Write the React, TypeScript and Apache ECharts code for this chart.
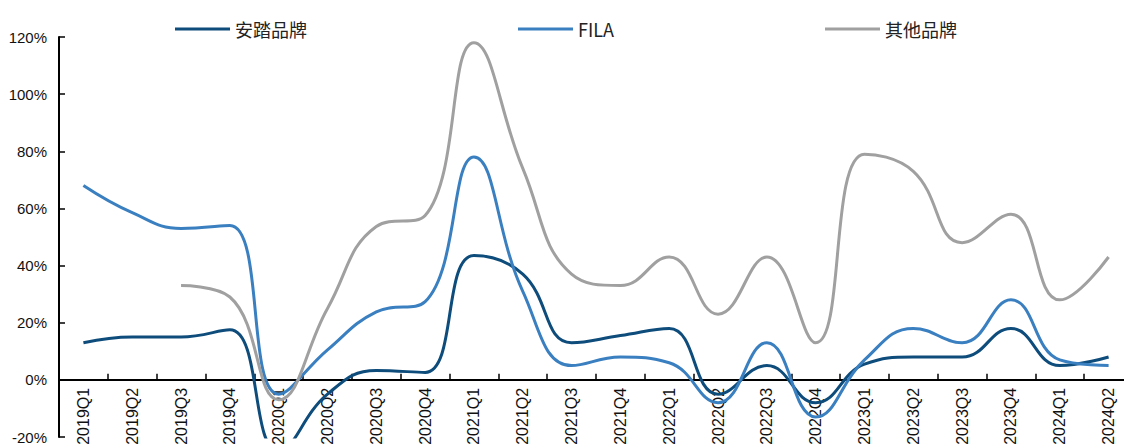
import React, { useEffect, useRef } from "react";
import * as echarts from "echarts";

const categories = [
  "2019Q1", "2019Q2", "2019Q3", "2019Q4",
  "2020Q1", "2020Q2", "2020Q3", "2020Q4",
  "2021Q1", "2021Q2", "2021Q3", "2021Q4",
  "2022Q1", "2022Q2", "2022Q3", "2022Q4",
  "2023Q1", "2023Q2", "2023Q3", "2023Q4",
  "2024Q1", "2024Q2",
];

const antaBrand = [13, 15, 15, 17.5, -25, -5, 3.3, 2.6, 43.5, 37, 13, 15.5, 18, -5, 5, -8, 5.5, 8, 8, 18, 5, 8];
const fila = [68, 58.5, 53, 54, -5, 10.5, 23.8, 27.4, 78, 31, 5, 8, 6, -8, 13, -13, 7, 18, 13, 28, 7, 5];
const otherBrands: (number | null)[] = [null, null, 33, 29, -7, 25, 53.7, 57.5, 118, 74, 37, 33, 43, 23, 43, 13, 79, 73, 48, 58, 28, 43];

const yTicks = { min: -20, max: 120, interval: 20 };

const COLORS = { anta: "#0e4c7c", fila: "#3a7fc0", other: "#a0a0a0" };

const GRID_HEIGHT = 400;

export default function App() {
  const ref = useRef<HTMLDivElement>(null);
  useEffect(() => {
    if (!ref.current) return;
    const chart = echarts.init(ref.current, undefined, { renderer: "svg" });
    const legendCommon = {
      top: 15,
      icon: "rect",
      itemWidth: 55,
      itemHeight: 3,
      itemGap: 6,
      textStyle: { fontSize: 18, color: "#222", fontFamily: "Noto Sans CJK SC" },
    };
    // position x axis at value 0
    const zeroOffset = -GRID_HEIGHT * (0 - yTicks.min) / (yTicks.max - yTicks.min);
    chart.setOption({
      animation: false,
      backgroundColor: "#fff",
      legend: [
        { ...legendCommon, left: 170, data: ["安踏品牌"] },
        { ...legendCommon, left: 513, data: ["FILA"] },
        { ...legendCommon, left: 820, data: ["其他品牌"] },
      ],
      grid: { left: 59, top: 37, width: 1074, height: GRID_HEIGHT, containLabel: false, outerBoundsMode: "none" },
      xAxis: {
        type: "category",
        data: categories,
        boundaryGap: true,
        position: "bottom",
        offset: zeroOffset,
        axisLine: { onZero: false, lineStyle: { color: "#000", width: 2 } },
        axisTick: { show: true, inside: true, length: 6, alignWithLabel: false, lineStyle: { color: "#000", width: 1.5 } },
        axisLabel: {
          rotate: 90,
          interval: 0,
          margin: 8,
          fontSize: 16,
          color: "#111",
          fontFamily: "Liberation Sans",
        },
        splitLine: { show: false },
      },
      yAxis: {
        type: "value",
        min: yTicks.min,
        max: yTicks.max,
        interval: yTicks.interval,
        axisLine: { show: true, lineStyle: { color: "#000", width: 2 } },
        axisTick: { show: true, inside: true, length: 6, lineStyle: { color: "#000", width: 1.5 } },
        axisLabel: {
          formatter: (v: number) => `${v}%`,
          fontSize: 15,
          color: "#111",
          margin: 12,
          fontFamily: "Liberation Sans",
        },
        splitLine: { show: false },
      },
      series: [
        {
          name: "安踏品牌",
          type: "line",
          data: antaBrand,
          smooth: 0.45,
          symbol: "none",
          clip: true,
          lineStyle: { color: COLORS.anta, width: 3 },
          itemStyle: { color: COLORS.anta },
        },
        {
          name: "FILA",
          type: "line",
          data: fila,
          smooth: 0.45,
          symbol: "none",
          clip: true,
          lineStyle: { color: COLORS.fila, width: 3 },
          itemStyle: { color: COLORS.fila },
        },
        {
          name: "其他品牌",
          type: "line",
          data: otherBrands,
          smooth: 0.45,
          symbol: "none",
          clip: true,
          connectNulls: false,
          lineStyle: { color: COLORS.other, width: 3 },
          itemStyle: { color: COLORS.other },
        },
      ],
    });
    return () => chart.dispose();
  }, []);
  return (
    <div
      ref={ref}
      style={{ position: "fixed", left: 0, top: 0, width: 1124, height: 446, background: "#fff" }}
    />
  );
}
